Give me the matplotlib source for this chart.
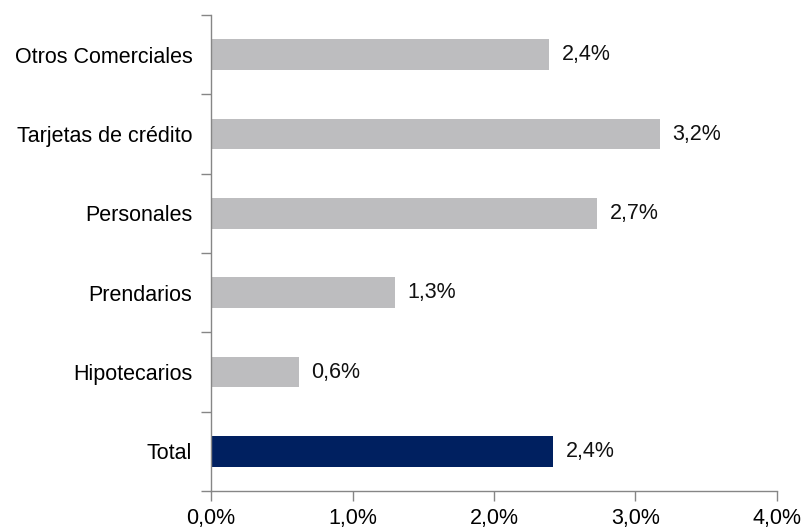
import numpy as np
import matplotlib.pyplot as plt
from matplotlib.ticker import FuncFormatter, FixedLocator

# tasas por tipo de financiacion (%)
categorias = ["Otros Comerciales", "Tarjetas de crédito", "Personales",
              "Prendarios", "Hipotecarios", "Total"]
valores = [2.39, 3.17, 2.73, 1.30, 0.62, 2.42]

gris = "#BDBDBF"
azul = "#002060"
colores = [gris] * 5 + [azul]

plt.rcParams["font.family"] = ["Liberation Sans", "DejaVu Sans"]
fs = 15.5

fig = plt.figure(figsize=(8.03, 5.27), dpi=100)
ax = fig.add_axes([0.2628, 0.0683, 0.7048, 0.9032])

pos = np.arange(len(categorias))
ax.barh(pos, valores, height=0.39, color=colores, edgecolor="none")

for p, v in zip(pos, valores):
    ax.text(v + 0.09, p, f"{v:.1f}%".replace(".", ","), va="center", ha="left",
            fontsize=fs, color="#111111")

ax.set_xlim(0, 4)
ax.set_ylim(len(categorias) - 0.5, -0.5)

ax.xaxis.set_major_locator(FixedLocator([0, 1, 2, 3, 4]))
ax.xaxis.set_major_formatter(FuncFormatter(lambda x, _: f"{x:.1f}%".replace(".", ",")))

# marcas entre categorias, etiquetas centradas en cada barra
ax.set_yticks(np.arange(-0.5, len(categorias), 1.0))
ax.set_yticklabels([])
ax.set_yticks(pos, minor=True)
ax.set_yticklabels(categorias, minor=True)
ax.tick_params(axis="y", which="minor", length=0, pad=13.5, labelsize=fs)
ax.tick_params(axis="y", which="major", length=7, width=1, color="#868686", direction="out")
ax.tick_params(axis="x", length=7, width=1, color="#868686", direction="out",
               labelsize=fs, pad=5)

for s in ["top", "right"]:
    ax.spines[s].set_visible(False)
for s in ["left", "bottom"]:
    ax.spines[s].set_color("#868686")
    ax.spines[s].set_linewidth(1)

fig.savefig("out.png", dpi=100)
